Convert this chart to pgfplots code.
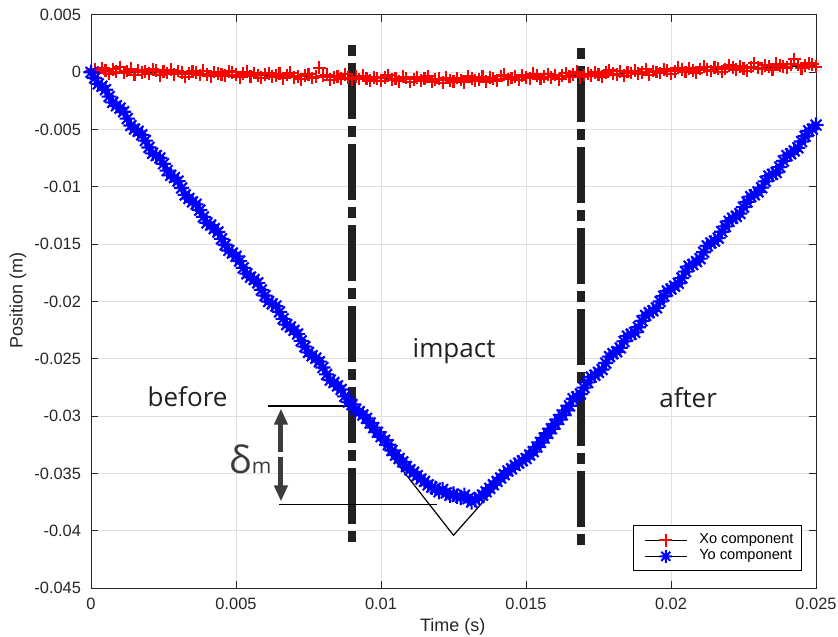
\documentclass[border=0pt]{standalone}
\usepackage{fontspec}
\setmainfont{Liberation Sans}
\newfontfamily\annfont{Open Sans}
\usepackage{pgfplots}
\usepackage{pgfplotstable}
\pgfplotsset{compat=1.18}
\usetikzlibrary{arrows.meta}
\definecolor{dashc}{HTML}{231F20}
\definecolor{arrc}{HTML}{3D3B3C}
\definecolor{tickc}{HTML}{262626}
\pgfdeclareplotmark{ast8}{%
  \pgfpathmoveto{\pgfqpoint{-\pgfplotmarksize}{0pt}}%
  \pgfpathlineto{\pgfqpoint{\pgfplotmarksize}{0pt}}%
  \pgfpathmoveto{\pgfqpoint{0pt}{-\pgfplotmarksize}}%
  \pgfpathlineto{\pgfqpoint{0pt}{\pgfplotmarksize}}%
  \pgfpathmoveto{\pgfqpoint{-0.7071\pgfplotmarksize}{-0.7071\pgfplotmarksize}}%
  \pgfpathlineto{\pgfqpoint{0.7071\pgfplotmarksize}{0.7071\pgfplotmarksize}}%
  \pgfpathmoveto{\pgfqpoint{-0.7071\pgfplotmarksize}{0.7071\pgfplotmarksize}}%
  \pgfpathlineto{\pgfqpoint{0.7071\pgfplotmarksize}{-0.7071\pgfplotmarksize}}%
  \pgfusepathqstroke}
\newcommand\tickfont{\fontsize{8.2}{9.8}\selectfont}
\newcommand\labfont{\fontsize{9}{10.8}\selectfont}
\newcommand\legfont{\fontsize{7.3}{8.8}\selectfont}
\newcommand\annsize{\annfont\fontsize{13}{15}\selectfont}

\pgfplotstableread{
t xo yo
0 0.00010 0
0.000125 0.00029 -0.00050
0.00025 -0.00002 -0.00101
0.000375 0.00038 -0.00121
0.0005 0.00017 -0.00152
0.000625 -0.00014 -0.00212
0.00075 0.00025 -0.00262
0.000875 0.00004 -0.00293
0.001 0.00044 -0.00313
0.001125 -0.00007 -0.00344
0.00125 0.00012 -0.00404
0.001375 0.00031 -0.00464
0.0015 -0.00020 -0.00495
0.001625 0.00020 -0.00515
0.00175 -0.00001 -0.00546
0.001875 0.00008 -0.00596
0.002 -0.00013 -0.00656
0.002125 0.00026 -0.00707
0.00225 0.00016 -0.00727
0.002375 -0.00025 -0.00748
0.0025 0.00004 -0.00798
0.002625 -0.00007 -0.00858
0.00275 0.00022 -0.00899
0.002875 -0.00018 -0.00919
0.003 0.00011 -0.00950
0.003125 0 -0.01010
0.00325 -0.00041 -0.01070
0.003375 -0.00012 -0.01101
0.0035 0.00008 -0.01131
0.003625 -0.00003 -0.01152
0.00375 -0.00024 -0.01202
0.003875 0.00015 -0.01262
0.004 -0.00016 -0.01313
0.004125 -0.00036 -0.01333
0.00425 0.00003 -0.01364
0.004375 -0.00008 -0.01394
0.0045 -0.00019 -0.01454
0.004625 -0.00030 -0.01505
0.00475 0.00010 -0.01555
0.004875 -0.00001 -0.01576
0.005 -0.00022 -0.01606
0.005125 -0.00043 -0.01646
0.00525 -0.00014 -0.01707
0.005375 0.00006 -0.01757
0.0055 -0.00035 -0.01788
0.005625 -0.00006 -0.01808
0.00575 -0.00027 -0.01838
0.005875 -0.00048 -0.01899
0.006 -0.00018 -0.01949
0.006125 -0.00009 -0.02000
0.00625 -0.00040 -0.02020
0.006375 -0.00031 -0.02040
0.0065 -0.00012 -0.02091
0.006625 -0.00052 -0.02151
0.00675 -0.00023 -0.02202
0.006875 -0.00004 -0.02222
0.007 -0.00045 -0.02252
0.007125 -0.00036 -0.02283
0.00725 -0.00060 -0.02343
0.007375 -0.00027 -0.02394
0.0075 -0.00018 -0.02444
0.007625 -0.00049 -0.02474
0.00775 -0.00040 -0.02495
0.007875 0.00040 -0.02525
0.008 -0.00031 -0.02576
0.008125 -0.00022 -0.02636
0.00825 -0.00065 -0.02686
0.008375 -0.00044 -0.02707
0.0085 -0.00034 -0.02737
0.008625 -0.00055 -0.02768
0.00875 -0.00016 -0.02828
0.008875 -0.00047 -0.02878
0.009 -0.00060 -0.02899
0.009125 -0.00038 -0.0294
0.00925 -0.00059 -0.0296
0.009375 -0.00030 -0.0299
0.0095 -0.00051 -0.0302
0.009625 -0.00072 -0.0306
0.00975 -0.00042 -0.0310
0.009875 -0.00053 -0.0314
0.01 -0.00074 -0.0318
0.010125 -0.00045 -0.0321
0.01025 -0.00026 -0.0325
0.010375 -0.00066 -0.0330
0.0105 -0.00057 -0.0334
0.010625 -0.00078 -0.0337
0.01075 -0.00039 -0.0340
0.010875 -0.00050 -0.0344
0.011 -0.00085 -0.0347
0.011125 -0.00061 -0.0349
0.01125 -0.00042 -0.0352
0.011375 -0.00073 -0.0355
0.0115 -0.00054 -0.0357
0.011625 -0.00034 -0.0360
0.01175 -0.00085 -0.0362
0.011875 -0.00066 -0.0363
0.012 -0.00057 -0.0366
0.012125 -0.00090 -0.0364
0.01225 -0.00048 -0.0367
0.012375 -0.00069 -0.0369
0.0125 -0.00080 -0.0368
0.012625 -0.00049 -0.0370
0.01275 -0.00067 -0.0371
0.012875 -0.00086 -0.0369
0.013 -0.00035 -0.0372
0.013125 -0.00054 -0.0375
0.01325 -0.00072 -0.0373
0.013375 -0.00061 -0.0371
0.0135 -0.00040 -0.0369
0.013625 -0.00080 -0.0366
0.01375 -0.00047 -0.0363
0.013875 -0.00056 -0.0360
0.014 -0.00074 -0.0357
0.014125 -0.00033 -0.0354
0.01425 -0.00022 -0.0351
0.014375 -0.00061 -0.0348
0.0145 -0.00049 -0.0346
0.014625 -0.00038 -0.0343
0.01475 -0.00067 -0.0341
0.014875 -0.00025 -0.0339
0.015 -0.00044 -0.0337
0.015125 -0.00053 -0.0334
0.01525 -0.00011 -0.0331
0.015375 -0.00030 -0.0327
0.0155 -0.00059 -0.0323
0.015625 -0.00038 -0.0319
0.01575 -0.00016 -0.0315
0.015875 -0.00045 -0.0311
0.016 -0.00024 -0.0307
0.016125 -0.00062 -0.0303
0.01625 -0.00031 -0.0299
0.016375 -0.00010 -0.0295
0.0165 -0.00038 -0.0291
0.016625 -0.00017 -0.02849
0.01675 0.00004 -0.02833
0.016875 -0.00045 -0.02807
0.017 -0.00023 -0.02752
0.017125 -0.00012 -0.02706
0.01725 -0.00031 -0.02660
0.017375 0.00001 -0.02644
0.0175 -0.00018 -0.02618
0.017625 -0.00037 -0.02593
0.01775 -0.00005 -0.02537
0.017875 0.00016 -0.02481
0.018 -0.00013 -0.02455
0.018125 -0.00022 -0.02439
0.01825 0.00010 -0.02404
0.018375 -0.00029 -0.02348
0.0185 0.00002 -0.02302
0.018625 -0.00006 -0.02286
0.01875 0.00015 -0.02270
0.018875 -0.00014 -0.02225
0.019 -0.00002 -0.02169
0.019125 0.00029 -0.02123
0.01925 -0.00020 -0.02097
0.019375 0.00012 -0.02081
0.0195 0.00003 -0.02056
0.019625 -0.00006 -0.02000
0.01975 0.00025 -0.01954
0.019875 0.00017 -0.01908
0.02 -0.00012 -0.01892
0.020125 0.00009 -0.01867
0.02025 0.00041 -0.01841
0.020375 0.00022 -0.01795
0.0205 0.00003 -0.01739
0.020625 0.00035 -0.01693
0.02075 0.00016 -0.01678
0.020875 -0.00003 -0.01652
0.021 0.00028 -0.01626
0.021125 0.00050 -0.01570
0.02125 0.00021 -0.01514
0.021375 0.00012 -0.01489
0.0215 0.00044 -0.01473
0.021625 0.00035 -0.01447
0.02175 0.00006 -0.01391
0.021875 0.00028 -0.01345
0.022 0.00059 -0.01300
0.022125 0.00040 -0.01274
0.02225 0.00021 -0.01258
0.022375 0.00053 -0.01232
0.0225 0.00034 -0.01176
0.022625 0.00015 -0.01131
0.02275 0.00047 -0.01085
0.022875 0.00078 -0.01069
0.023 0.00039 -0.01043
0.023125 0.00031 -0.01007
0.02325 0.00062 -0.00952
0.023375 0.00053 -0.00906
0.0235 0.00024 -0.00890
0.023625 0.00076 -0.00874
0.02375 0.00057 -0.00828
0.023875 0.00048 -0.00773
0.024 0.00040 -0.00727
0.024125 0.00071 -0.00711
0.02425 0.00115 -0.00685
0.024375 0.00064 -0.00659
0.0245 0.00035 -0.00604
0.024625 0.00056 -0.00558
0.02475 0.00077 -0.00512
0.024875 0.00069 -0.00496
0.025 0.00050 -0.00460
}\motion

\begin{document}
\begin{tikzpicture}
\begin{axis}[
  width=362.5pt, height=286.5pt, scale only axis,
  xmin=0, xmax=0.025, ymin=-0.045, ymax=0.005,
  xtick={0,0.005,0.01,0.015,0.02,0.025},
  xticklabels={0,0.005,0.01,0.015,0.02,0.025},
  ytick={-0.045,-0.04,-0.035,-0.03,-0.025,-0.02,-0.015,-0.01,-0.005,0,0.005},
  yticklabels={-0.045,-0.04,-0.035,-0.03,-0.025,-0.02,-0.015,-0.01,-0.005,0,0.005},
  scaled ticks=false,
  tick align=inside, xtick pos=both, ytick pos=both,
  major tick length=3.6pt,
  grid=major,
  major grid style={black!12, line width=0.5pt},
  axis line style={black!85, line width=0.5pt},
  major tick style={black!85, line width=0.5pt},
  tick label style={font=\tickfont, text=tickc},
  xticklabel style={yshift=-1.5pt},
  yticklabel style={xshift=-1.5pt},
  xlabel={Time (s)}, ylabel={Position (m)},
  label style={font=\labfont, text=tickc},
  xlabel style={at={(axis description cs:0.499,-0.068)}, anchor=center},
  ylabel style={at={(axis description cs:-0.1007,0.5026)}, anchor=center},
  legend style={at={(rel axis cs:0.9806,0.029)}, anchor=south east,
    draw=black, line width=0.5pt, font=\legfont, fill=white,
    inner xsep=2pt, inner ysep=2pt, row sep=-2.5pt,
    cells={anchor=west}},
  legend image code/.code={%
    \path (-3.5pt,0pt) (25pt,0pt);
    \draw[black, line width=0.5pt] (0pt,0pt) -- (21pt,0pt);
    \draw[#1, only marks] plot coordinates {(10.5pt,0pt)};},
]
% markers
\addplot[forget plot, only marks, red, mark=+, mark size=3.2pt, mark options={line width=1.05pt}] table[x=t, y=xo] {\motion};
\addplot[forget plot, only marks, blue, mark=ast8, mark size=3.8pt, mark options={line width=1.05pt}] table[x=t, y=yo] {\motion};
% fitted lines
\addplot[forget plot, black, line width=0.6pt] coordinates {(0,0.0001) (0.0125,-0.0007) (0.025,0.0006)};
\addplot[forget plot, black, line width=0.6pt] coordinates {(0,0) (0.0125,-0.0404) (0.025,-0.0046)};
% legend
\addlegendimage{black, mark=+, mark size=3.2pt, mark options={red, line width=1pt}}
\addlegendentry{Xo component}
\addlegendimage{black, mark=ast8, mark size=3.2pt, mark options={blue, line width=1pt}}
\addlegendentry{Yo component}
% dash-dot phase markers
\draw[dashc, line width=4pt, dash pattern=on 5.5pt off 3.5pt on 28pt off 3.5pt] (axis cs:0.00899,0.00236) -- (axis cs:0.00899,-0.0410);
\draw[dashc, line width=4pt, dash pattern=on 5.5pt off 3.5pt on 28pt off 3.5pt] (axis cs:0.01688,0.0021) -- (axis cs:0.01688,-0.0413);
% delta_m annotation
\draw[black, line width=0.6pt] (axis cs:0.0061,-0.02912) -- (axis cs:0.0090,-0.02912);
\draw[black, line width=0.6pt] (axis cs:0.00648,-0.0377) -- (axis cs:0.01193,-0.0377);
\draw[arrc, line width=2.5pt, -{Triangle[length=8pt, width=6.5pt]}] (axis cs:0.00655,-0.0331) -- (axis cs:0.00655,-0.02935);
\draw[arrc, line width=2.5pt, -{Triangle[length=8pt, width=6.5pt]}] (axis cs:0.00655,-0.0336) -- (axis cs:0.00655,-0.03745);
\node[anchor=base, font=\annsize, text=dashc, inner sep=0pt] at (axis cs:0.00333,-0.02915) {before};
\node[anchor=base, font=\annsize, text=dashc, inner sep=0pt] at (axis cs:0.01252,-0.02487) {impact};
\node[anchor=base, font=\annsize, text=dashc, inner sep=0pt] at (axis cs:0.02059,-0.02923) {after};
\node[anchor=base, text=arrc, inner sep=0pt] at (axis cs:0.0055,-0.0350) {\annfont{\fontsize{19}{20}\selectfont δ}{\fontsize{10.5}{12}\selectfont m}};
\end{axis}
\pgfresetboundingbox
\path[use as bounding box] ([xshift=-45.5pt,yshift=-24pt]current axis.south west) rectangle ([xshift=373.5pt,yshift=294pt]current axis.south west);
\end{tikzpicture}
\end{document}
